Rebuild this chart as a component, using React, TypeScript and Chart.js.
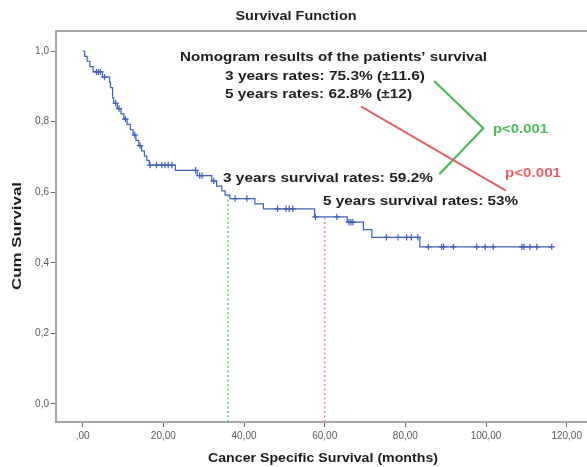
import React, { useEffect, useRef } from 'react';
import { Chart, registerables } from 'chart.js';

Chart.register(...registerables);

// Kaplan–Meier steps: month of each death and the survival estimate right after it
const eventMonths = [
  0.5, 1.1, 1.8, 2.6, 4.9, 6.7, 6.9, 7.4, 7.7, 8.6, 9.5, 10.2, 11.0, 11.8, 12.5,
  13.2, 13.9, 14.6, 15.3, 15.9, 16.5, 23.0, 28.4, 32.0, 33.2, 34.5, 35.3, 36.5,
  42.7, 44.8, 57.5, 65.6, 69.6, 71.7, 83.6,
];
const survivalAfterEvent = [
  0.985, 0.971, 0.956, 0.941, 0.926, 0.911, 0.896, 0.867, 0.852, 0.837, 0.822,
  0.807, 0.792, 0.777, 0.762, 0.747, 0.732, 0.717, 0.702, 0.69, 0.677, 0.662,
  0.647, 0.632, 0.617, 0.604, 0.592, 0.582, 0.567, 0.553, 0.53, 0.515, 0.494,
  0.472, 0.445,
];
// Censored patients (months of last follow-up)
const censoredMonths = [
  3.4, 3.9, 4.4, 5.4, 8.2, 9.0, 10.6, 12.9, 14.2, 16.7, 18.3, 19.6, 20.4, 21.2,
  22.1, 28.0, 29.0, 29.6, 32.5, 37.8, 40.7, 48.3, 50.4, 51.2, 52.1, 57.7, 63.0,
  66.0, 66.5, 67.0, 75.3, 78.2, 80.3, 81.5, 83.1, 85.7, 89.0, 89.5, 91.9, 97.7,
  99.8, 101.8, 108.9, 109.4, 110.9, 112.6, 116.3,
];
const lastFollowUpMonths = 116.3;

const xTickValues = [0, 20, 40, 60, 80, 100, 120];
const yTickValues = [0, 0.2, 0.4, 0.6, 0.8, 1.0];

// Observed 3- and 5-year survival
const milestoneMonths = [36, 60];
const milestoneRates = [0.592, 0.53];

const nomogramLines = [
  'Nomogram results of the patients\u2019 survival',
  '3 years rates: 75.3% (\u00b111.6)',
  '5 years rates: 62.8% (\u00b112)',
];
const observedLines = ['3 years survival rates: 59.2%', '5 years survival rates: 53%'];
const pValueText = 'p<0.001';

const X_MIN = -6.62;
const X_MAX = 125.04;
const Y_MIN = -0.051;
const Y_MAX = 1.0567;

const CURVE_BLUE = '#3f5fb9';
const GREEN = '#4cb95a';
const RED = '#e2626a';
const FONT = '"Liberation Sans", Arial, Helvetica, sans-serif';

function survivalAt(t: number): number {
  let s = 1;
  for (let i = 0; i < eventMonths.length; i++) {
    if (eventMonths[i] <= t) s = survivalAfterEvent[i];
    else break;
  }
  return s;
}

function drawStretched(
  ctx: CanvasRenderingContext2D,
  text: string,
  x: number,
  y: number,
  width: number,
  opts: { size?: number; color?: string; align?: CanvasTextAlign; rotate?: number } = {}
) {
  const size = opts.size ?? 12.5;
  ctx.save();
  ctx.font = `bold ${size}px ${FONT}`;
  ctx.fillStyle = opts.color ?? '#1c1c1c';
  ctx.textAlign = opts.align ?? 'left';
  ctx.textBaseline = 'middle';
  const measured = ctx.measureText(text).width;
  ctx.translate(x, y);
  if (opts.rotate) ctx.rotate(opts.rotate);
  ctx.scale(width / measured, 1);
  ctx.fillText(text, 0, 0);
  ctx.restore();
}

const annotationPlugin = {
  id: 'survivalAnnotations',
  afterDraw(chart: any) {
    const { ctx, chartArea, scales } = chart;
    const px = (t: number) => scales.x.getPixelForValue(t);
    const py = (s: number) => scales.y.getPixelForValue(s);

    // top frame line
    ctx.save();
    ctx.strokeStyle = '#a6a6a6';
    ctx.lineWidth = 2;
    ctx.beginPath();
    ctx.moveTo(chartArea.left - 1, chartArea.top);
    ctx.lineTo(chartArea.right, chartArea.top);
    ctx.stroke();
    ctx.restore();

    // titles
    drawStretched(ctx, 'Survival Function', 296, 17, 121, { align: 'center' });
    drawStretched(ctx, 'Cancer Specific Survival (months)', 323, 459, 230, { align: 'center' });
    drawStretched(ctx, 'Cum Survival', 18, 236, 108, { align: 'center', rotate: -Math.PI / 2 });

    // nomogram vs. observed texts
    drawStretched(ctx, nomogramLines[0], 180, 58, 307);
    drawStretched(ctx, nomogramLines[1], 225, 76.5, 200);
    drawStretched(ctx, nomogramLines[2], 225, 95, 187);
    drawStretched(ctx, observedLines[0], 223, 178.5, 210);
    drawStretched(ctx, observedLines[1], 323, 201.5, 195);
    drawStretched(ctx, pValueText, 493, 130, 55, { color: GREEN });
    drawStretched(ctx, pValueText, 505, 173.5, 56, { color: RED });

    // green bracket joining the 3-year figures
    ctx.save();
    ctx.lineCap = 'round';
    ctx.lineJoin = 'round';
    ctx.strokeStyle = GREEN;
    ctx.lineWidth = 2.2;
    ctx.beginPath();
    ctx.moveTo(px(87.35), py(0.913));
    ctx.lineTo(px(99.33), py(0.781));
    ctx.lineTo(px(88.6), py(0.653));
    ctx.stroke();

    // red connector joining the 5-year figures
    ctx.strokeStyle = RED;
    ctx.lineWidth = 2;
    ctx.beginPath();
    ctx.moveTo(px(69.18), py(0.842));
    ctx.lineTo(px(104.7), py(0.606));
    ctx.stroke();
    ctx.restore();
  },
};

const fmtX = (v: number) => (v === 0 ? ',00' : v.toFixed(2).replace('.', ','));
const fmtY = (v: number) => v.toFixed(1).replace('.', ',');

export default function App() {
  const canvasRef = useRef<HTMLCanvasElement | null>(null);

  useEffect(() => {
    if (!canvasRef.current) return;

    const curve = [{ x: 0, y: 1 }];
    eventMonths.forEach((t, i) => curve.push({ x: t, y: survivalAfterEvent[i] }));
    curve.push({ x: lastFollowUpMonths, y: survivalAt(lastFollowUpMonths) });

    const censored = censoredMonths.map((t) => ({ x: t, y: survivalAt(t) }));

    const milestoneColors = ['#74c874', '#ee8a8e'];
    const milestoneSets = milestoneMonths.map((m, i) => ({
      label: `milestone-${m}`,
      data: [
        { x: m, y: Y_MIN },
        { x: m, y: milestoneRates[i] },
      ],
      borderColor: milestoneColors[i],
      borderWidth: 1.6,
      borderDash: [2, 2.5],
      pointRadius: 0,
      fill: false,
    }));

    const tickFont = { family: FONT, size: 10 };

    const chart = new Chart(canvasRef.current, {
      type: 'line',
      data: {
        datasets: [
          ...milestoneSets,
          {
            label: 'Survival Function',
            data: curve,
            stepped: 'before',
            borderColor: CURVE_BLUE,
            borderWidth: 1.2,
            pointRadius: 0,
            fill: false,
          },
          {
            label: 'Censored',
            data: censored,
            showLine: false,
            pointStyle: 'cross',
            pointRadius: 3.2,
            pointBorderWidth: 1.2,
            pointBorderColor: CURVE_BLUE,
            borderColor: CURVE_BLUE,
          },
        ] as any,
      },
      options: {
        animation: false,
        responsive: false,
        maintainAspectRatio: false,
        layout: { autoPadding: false, padding: { top: 31, left: 0, right: 0, bottom: 0 } },
        plugins: {
          legend: { display: false },
          title: { display: false },
          tooltip: { enabled: false },
        },
        scales: {
          x: {
            type: 'linear',
            min: X_MIN,
            max: X_MAX,
            afterBuildTicks: (s: any) => {
              s.ticks = xTickValues.map((v) => ({ value: v }));
            },
            afterFit: (s: any) => {
              s.height = 45;
              s.paddingLeft = 0;
              s.paddingRight = 0;
            },
            ticks: {
              callback: (v: any) => fmtX(Number(v)),
              color: '#5a5a5a',
              font: tickFont,
              padding: 3,
              maxRotation: 0,
              autoSkip: false,
            },
            grid: {
              drawOnChartArea: false,
              drawTicks: true,
              tickLength: 5,
              color: '#666',
            },
            border: { color: '#a6a6a6', width: 2 },
          },
          y: {
            type: 'linear',
            min: Y_MIN,
            max: Y_MAX,
            afterBuildTicks: (s: any) => {
              s.ticks = yTickValues.map((v) => ({ value: v }));
            },
            afterFit: (s: any) => {
              s.width = 56;
              s.paddingTop = 0;
              s.paddingBottom = 0;
            },
            ticks: {
              callback: (v: any) => fmtY(Number(v)),
              color: '#5a5a5a',
              font: tickFont,
              padding: 2,
              autoSkip: false,
            },
            grid: {
              drawOnChartArea: false,
              drawTicks: true,
              tickLength: 5,
              color: '#666',
            },
            border: { color: '#a6a6a6', width: 2 },
          },
        },
      } as any,
      plugins: [annotationPlugin],
    });

    return () => chart.destroy();
  }, []);

  return (
    <div style={{ position: 'absolute', left: 0, top: 0, width: 587, height: 467, background: '#fff' }}>
      <canvas ref={canvasRef} width={587} height={467} style={{ display: 'block' }} />
    </div>
  );
}
